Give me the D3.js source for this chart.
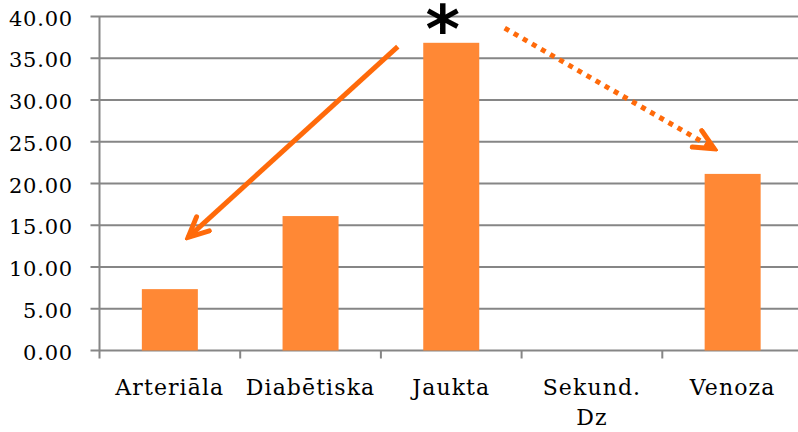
<!DOCTYPE html>
<html>
<head>
<meta charset="utf-8">
<script src="https://cdn.jsdelivr.net/npm/d3@7"></script>
<style>
  body { margin: 0; background: #fff; }
  svg { display: block; }
  text { font-family: "DejaVu Serif", serif; fill: #000; }
</style>
</head>
<body>
<svg width="798" height="432"></svg>
<script>
var svg = d3.select("svg"),
    width = +svg.attr("width"),
    height = +svg.attr("height");

// data
var categories = ["Arteriāla", "Diabētiska", "Jaukta", "Sekund. Dz", "Venoza"];
var values = [7.35, 16.1, 36.85, 0, 21.15];
var yTicks = [0, 5, 10, 15, 20, 25, 30, 35, 40];

// annotations: x in category index units (0 = centre of first), y in data units
var solidArrow = {x1: 1.62, y1: 36.4, x2: 0.13, y2: 13.55};
var dottedArrow = {x1: 2.38, y1: 38.6, x2: 3.87, y2: 24.15};
var starMark = {x: 1.94, y: 35.8, label: "*"};

var plotLeft = 99.5, plotRight = 803, plotTop = 16.5, plotBottom = 350.5;

var x = d3.scaleBand()
    .domain(categories)
    .range([plotLeft, plotRight])
    .paddingInner(0)
    .paddingOuter(0);

var xi = d3.scaleLinear()
    .domain([-0.5, categories.length - 0.5])
    .range([plotLeft, plotRight]);

var y = d3.scaleLinear()
    .domain([0, 40])
    .range([plotBottom, plotTop]);

var grid = "#868686";

// gridlines + y ticks
svg.append("g")
  .selectAll("line")
  .data(yTicks)
  .enter().append("line")
    .attr("x1", plotLeft - 9)
    .attr("x2", width)
    .attr("y1", function(d) { return y(d); })
    .attr("y2", function(d) { return y(d); })
    .attr("stroke", grid)
    .attr("stroke-width", 2);

svg.append("g")
  .selectAll("text")
  .data(yTicks)
  .enter().append("text")
    .attr("x", 73)
    .attr("y", function(d) { return y(d) + 9; })
    .attr("text-anchor", "end")
    .style("font-size", "21px")
    .style("letter-spacing", "0.8px")
    .text(function(d) { return d3.format(".2f")(d); });

// y axis line
svg.append("line")
    .attr("x1", plotLeft).attr("x2", plotLeft)
    .attr("y1", plotTop).attr("y2", plotBottom + 8)
    .attr("stroke", grid)
    .attr("stroke-width", 2);

// category ticks
svg.append("g")
  .selectAll("line")
  .data(categories.slice(1))
  .enter().append("line")
    .attr("x1", function(d) { return x(d); })
    .attr("x2", function(d) { return x(d); })
    .attr("y1", plotBottom)
    .attr("y2", plotBottom + 8)
    .attr("stroke", grid)
    .attr("stroke-width", 2);

// bars
var barW = 56;
svg.append("g")
  .selectAll("rect")
  .data(values)
  .enter().append("rect")
    .attr("x", function(d, i) { return x(categories[i]) + x.bandwidth() / 2 - barW / 2; })
    .attr("y", function(d) { return y(d); })
    .attr("width", barW)
    .attr("height", function(d) { return plotBottom - y(d); })
    .attr("fill", "#ff8835");

// category labels
var lab = svg.append("g")
  .selectAll("text")
  .data(categories)
  .enter().append("text")
    .attr("x", function(d) { return x(d) + x.bandwidth() / 2; })
    .attr("y", 395)
    .attr("text-anchor", "middle")
    .style("font-size", "22px")
    .style("letter-spacing", "1.1px");

lab.each(function(d) {
  var parts = d === "Sekund. Dz" ? ["Sekund.", "Dz"] : [d];
  var t = d3.select(this);
  parts.forEach(function(p, k) {
    t.append("tspan")
      .attr("x", t.attr("x"))
      .attr("dy", k === 0 ? 0 : 30)
      .text(p);
  });
});

// arrow marker
var arrowColor = "#ff6a0a";
svg.append("defs").append("marker")
    .attr("id", "head")
    .attr("markerUnits", "userSpaceOnUse")
    .attr("viewBox", "-24 -12 28 24")
    .attr("markerWidth", 28)
    .attr("markerHeight", 24)
    .attr("refX", 0)
    .attr("refY", 0)
    .attr("orient", "auto")
  .append("path")
    .attr("d", "M-20,-9.5L0,0L-20,9.5")
    .attr("fill", "none")
    .attr("stroke", arrowColor)
    .attr("stroke-width", 5)
    .attr("stroke-linecap", "round")
    .attr("stroke-linejoin", "miter");

svg.append("line")
    .attr("x1", xi(solidArrow.x1)).attr("y1", y(solidArrow.y1))
    .attr("x2", xi(solidArrow.x2)).attr("y2", y(solidArrow.y2))
    .attr("stroke", arrowColor)
    .attr("stroke-width", 5)
    .attr("marker-end", "url(#head)");

svg.append("line")
    .attr("x1", xi(dottedArrow.x1)).attr("y1", y(dottedArrow.y1))
    .attr("x2", xi(dottedArrow.x2)).attr("y2", y(dottedArrow.y2))
    .attr("stroke", arrowColor)
    .attr("stroke-width", 5)
    .attr("stroke-dasharray", "5,5.5")
    .attr("marker-end", "url(#head)");

// significance mark
svg.append("text")
    .attr("x", xi(starMark.x))
    .attr("y", y(starMark.y))
    .attr("text-anchor", "middle")
    .style("font-family", "'DejaVu Sans', sans-serif")
    .style("font-weight", "bold")
    .style("font-size", "66px")
    .text(starMark.label);
</script>
</body>
</html>
